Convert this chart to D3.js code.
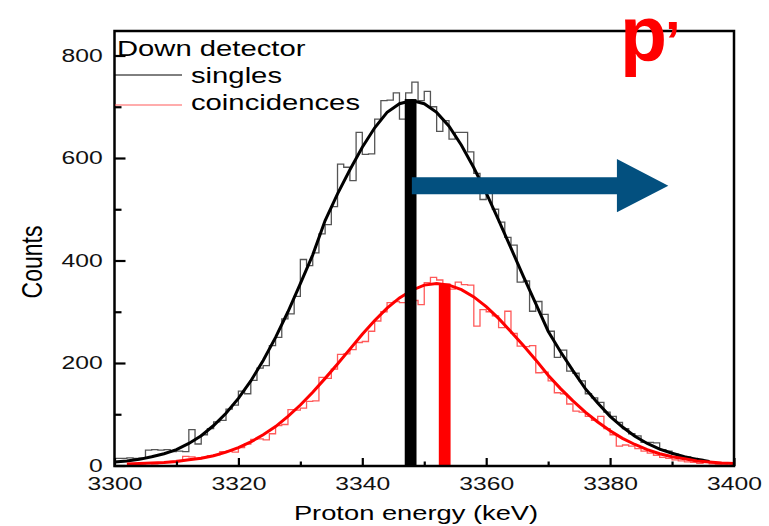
<!DOCTYPE html>
<html>
<head>
<meta charset="utf-8">
<script src="https://cdn.jsdelivr.net/npm/d3@7"></script>
<style>
  body { margin: 0; background: #fff; }
  svg { display: block; font-family: "Liberation Sans", Arial, sans-serif; }
</style>
</head>
<body>
<svg width="769" height="526"></svg>
<script>
// axis ticks
var energyTicks = [3300, 3320, 3340, 3360, 3380, 3400]
var energyMinor = [3310, 3330, 3350, 3370, 3390]
var countTicks = [0, 200, 400, 600, 800]
var countMinor = [100, 300, 500, 700]

// histograms, 1 keV bins
var singlesStart = 3300
var singlesCounts = [
  14, 14, 15, 14, 15, 30, 31, 30, 31, 27,
  28, 27, 70, 42, 60, 72, 85, 88, 110, 118,
  145, 140, 166, 190, 195, 234, 250, 286, 296, 330,
  402, 390, 415, 452, 470, 505, 588, 582, 556, 650,
  607, 608, 676, 712, 713, 727, 676, 727, 748, 712,
  730, 700, 652, 673, 637, 650, 650, 612, 570, 519,
  540, 500, 475, 445, 430, 358, 360, 301, 320, 295,
  262, 211, 225, 184, 180, 165, 140, 132, 123, 104,
  96, 84, 72, 62, 58, 45, 45, 44, 31, 28,
  22, 16, 17, 14, 12, 9, 7, 5]

var coincStart = 3302
var coincCounts = [
  2, 3, 3, 4, 3, 5, 6, 8, 10, 18,
  17, 13, 16, 19, 21, 27, 28, 26, 35, 42,
  51, 52, 50, 62, 78, 80, 109, 108, 112, 125,
  126, 172, 170, 188, 217, 218, 226, 240, 242, 262,
  282, 300, 318, 320, 318, 330, 322, 314, 357, 367,
  362, 350, 344, 358, 353, 352, 272, 304, 300, 292,
  269, 301, 258, 233, 232, 234, 181, 182, 165, 142,
  140, 120, 106, 104, 96, 88, 96, 72, 60, 38,
  40, 38, 33, 28, 24, 20, 16, 14, 11, 9,
  7, 6, 4, 6, 3, 2, 1]

// fitted curves, 2 keV steps
var singlesFitStart = 3300
var singlesFit = [7, 9, 12, 17, 23, 31, 43, 58, 78, 102,
  131, 165, 205, 250, 300, 355, 411, 478, 530, 577,
  621, 659, 689, 706, 712, 706, 689, 662, 625, 581,
  532, 479, 424, 369, 316, 262, 222, 185, 150, 122,
  96, 75, 57, 43, 32, 24, 17, 12, 8]
var coincFitStart = 3302
var coincFit = [3, 4, 5, 6, 8, 11, 14, 19, 26, 35,
  46, 60, 76, 96, 118, 143, 170, 198, 227, 256,
  283, 307, 327, 342, 352, 355, 352, 343, 329, 310,
  287, 261, 234, 206, 176, 150, 126, 104, 85, 68,
  53, 41, 31, 23, 17, 13, 9, 7, 5, 4]

// peak markers
var peakEnergy = [3347.8, 3353.3]
var peakTop = [715, 355]
var peakColor = ["#000000", "#ff0000"]

var svg = d3.select("svg")
var x = d3.scaleLinear().domain([3300, 3400]).range([114.5, 734])
var y = d3.scaleLinear().domain([0, 800]).range([465.5, 55.5])
var sx = 1.3 // the source picture is stretched horizontally

function toPoints(start, step, vals, closeLast) {
  var pts = vals.map(function (v, i) { return [start + i * step, v] })
  if (closeLast) pts.push([start + vals.length * step, vals[vals.length - 1]])
  return pts
}

var stepLine = d3.line().x(d => x(d[0])).y(d => y(d[1])).curve(d3.curveStepAfter)
var fitLine = d3.line().x(d => x(d[0])).y(d => y(d[1]))

svg.append("path").attr("d", stepLine(toPoints(singlesStart, 1, singlesCounts, true)))
  .attr("fill", "none").attr("stroke", "#555").attr("stroke-width", 1.3)
svg.append("path").attr("d", stepLine(toPoints(coincStart, 1, coincCounts, true)))
  .attr("fill", "none").attr("stroke", "#ff5a5a").attr("stroke-width", 1.3)

svg.append("path").attr("d", fitLine(toPoints(singlesFitStart, 2, singlesFit, false)))
  .attr("fill", "none").attr("stroke", "#000").attr("stroke-width", 3)
svg.append("path").attr("d", fitLine(toPoints(coincFitStart, 2, coincFit, false)))
  .attr("fill", "none").attr("stroke", "#ff0000").attr("stroke-width", 3)

// thick vertical markers at the peak positions
var barW = 1.9 // keV
svg.selectAll(".peak").data(peakEnergy).enter().append("rect")
  .attr("class", "peak")
  .attr("x", (d) => x(d - barW / 2))
  .attr("width", x(3300 + barW) - x(3300))
  .attr("y", (d, i) => y(peakTop[i]))
  .attr("height", (d, i) => y(0) - y(peakTop[i]))
  .attr("fill", (d, i) => peakColor[i])

// blue arrow
var arrowY = 546, shaftHalf = 16.5, headHalf = 52
var aTail = 3348.0, aHead = 3381.1, aTip = 3389.4
var arrowPts = [[aTail, arrowY + shaftHalf], [aHead, arrowY + shaftHalf], [aHead, arrowY + headHalf],
  [aTip, arrowY], [aHead, arrowY - headHalf], [aHead, arrowY - shaftHalf], [aTail, arrowY - shaftHalf]]
svg.append("polygon")
  .attr("points", arrowPts.map(p => x(p[0]) + "," + y(p[1])).join(" "))
  .attr("fill", "#03507f")

// axes with inward ticks
var xAxis = svg.append("g").attr("transform", "translate(0,466)")
  .call(d3.axisBottom(x).tickValues(energyTicks).tickSize(-8).tickPadding(14).tickFormat(d3.format("d")))
var xMinor = svg.append("g").attr("transform", "translate(0,466)")
  .call(d3.axisBottom(x).tickValues(energyMinor).tickSize(-4.5).tickFormat(""))
var yAxis = svg.append("g").attr("transform", "translate(114.5,0)")
  .call(d3.axisLeft(y).tickValues(countTicks).tickSize(-11).tickPadding(9))
var yMinor = svg.append("g").attr("transform", "translate(114.5,0)")
  .call(d3.axisLeft(y).tickValues(countMinor).tickSize(-7).tickFormat(""))

svg.selectAll(".domain").remove()
svg.selectAll(".tick line").attr("stroke", "#000").attr("stroke-width", 2.2)
svg.selectAll(".tick text").attr("font-size", 19).attr("fill", "#111")
  .attr("font-family", "'Liberation Sans', Arial, sans-serif")
  .attr("transform", "scale(" + sx + ",1)")
xAxis.selectAll(".tick text").attr("dy", "0.55em")
yAxis.selectAll(".tick text").attr("dy", "0.3em")

// frame
svg.append("rect").attr("x", 114.5).attr("y", 31).attr("width", 734 - 114.5).attr("height", 466 - 31)
  .attr("fill", "none").attr("stroke", "#000").attr("stroke-width", 2.5)

// legend
function stretchedText(tx, ty, str, size) {
  return svg.append("text").attr("transform", "translate(" + tx + "," + ty + ") scale(" + sx + ",1)")
    .attr("font-size", size).attr("fill", "#000").text(str)
}
stretchedText(117, 56, "Down detector", 22.5)
svg.append("line").attr("x1", 115).attr("x2", 182).attr("y1", 75).attr("y2", 75)
  .attr("stroke", "#000").attr("stroke-width", 1)
stretchedText(191, 83, "singles", 22.5)
svg.append("line").attr("x1", 115).attr("x2", 182).attr("y1", 105).attr("y2", 105)
  .attr("stroke", "#ff5a5a").attr("stroke-width", 1.2)
stretchedText(191, 110, "coincidences", 22.5)

// axis titles
svg.append("text").attr("transform", "translate(416,520) scale(" + sx + ",1)")
  .attr("text-anchor", "middle").attr("font-size", 21).text("Proton energy (keV)")
svg.append("text").attr("transform", "translate(42,262) scale(" + sx + ",1) rotate(-90)")
  .attr("text-anchor", "middle").attr("font-size", 23).text("Counts")

// p' label
var pLabel = svg.append("text").attr("x", 620).attr("y", 61).attr("font-size", 77)
  .attr("font-weight", "bold").attr("fill", "#ff0000")
pLabel.append("tspan").text("p")
pLabel.append("tspan").attr("font-size", 56).attr("dx", -2).attr("dy", -1).text("\u2019")
</script>
</body>
</html>
